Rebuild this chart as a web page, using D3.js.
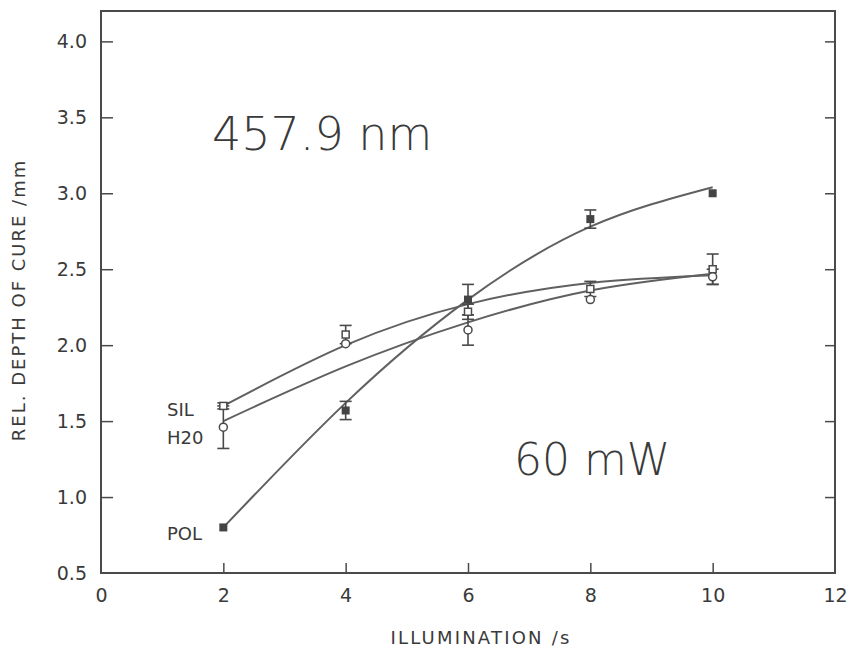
<!DOCTYPE html>
<html>
<head>
<meta charset="utf-8">
<script src="https://cdn.jsdelivr.net/npm/d3@7"></script>
<style>
  body { margin: 0; background: #fff; }
  text { font-family: "DejaVu Sans", Arial, sans-serif; fill: #3a3a3a; }
</style>
</head>
<body>
<script>
const width = 852;
const height = 656;

// data
const times = [2, 4, 6, 8, 10];
const polValues = [0.8, 1.57, 2.3, 2.83, 3.0];
const polErrors = [0, 0.06, 0.1, 0.06, 0];
const silValues = [1.6, 2.07, 2.22, 2.37, 2.5];
const silErrors = [0.02, 0.06, 0.05, 0.05, 0.1];
const h2oValues = [1.46, 2.01, 2.1, 2.3, 2.45];
const h2oErrors = [0.14, 0, 0.1, 0, 0.05];

// fitted curves as drawn in the figure
const polFit = [0.8, 1.62, 2.3, 2.78, 3.04];
const silFit = [1.6, 2.0, 2.27, 2.41, 2.46];
const h2oFit = [1.5, 1.86, 2.15, 2.36, 2.47];

const xTicks = [0, 2, 4, 6, 8, 10, 12];
const yTicks = [0.5, 1.0, 1.5, 2.0, 2.5, 3.0, 3.5, 4.0];

const margin = { left: 101, right: 17, top: 11, bottom: 83 };

const x = d3.scaleLinear().domain([0, 12]).range([margin.left, width - margin.right]);
const y = d3.scaleLinear().domain([0.5, 4.2]).range([height - margin.bottom, margin.top]);

const svg = d3.select('body').append('svg')
  .attr('width', width)
  .attr('height', height);

const ink = '#4a4a4a';

// frame
svg.append('rect')
  .attr('x', x(0)).attr('y', y(4.2))
  .attr('width', x(12) - x(0)).attr('height', y(0.5) - y(4.2))
  .attr('fill', 'none').attr('stroke', ink).attr('stroke-width', 2);

// axes with inward ticks
const xAxis = svg.append('g')
  .attr('transform', `translate(0,${y(0.5)})`)
  .call(d3.axisBottom(x).tickValues(xTicks).tickSizeInner(-10).tickSizeOuter(0).tickPadding(16).tickFormat(d3.format('d')));
const yAxis = svg.append('g')
  .attr('transform', `translate(${x(0)},0)`)
  .call(d3.axisLeft(y).tickValues(yTicks).tickSizeInner(-12).tickSizeOuter(0).tickPadding(14).tickFormat(d3.format('.1f')));
const yAxisRight = svg.append('g')
  .attr('transform', `translate(${x(12)},0)`)
  .call(d3.axisRight(y).tickValues(yTicks).tickSizeInner(-10).tickSizeOuter(0).tickFormat(''));

[xAxis, yAxis, yAxisRight].forEach(g => {
  g.select('.domain').remove();
  g.selectAll('line').attr('stroke', ink).attr('stroke-width', 1.5);
  g.selectAll('text').attr('font-size', 19).attr('fill', '#444')
    .style('font-family', '"DejaVu Sans", Arial, sans-serif');
});
xAxis.selectAll('.tick').filter(d => d === 0 || d === 12).select('line').remove();
yAxis.selectAll('.tick').filter(d => d === 0.5).select('line').remove();
yAxisRight.selectAll('.tick').filter(d => d === 0.5).select('line').remove();

// axis titles
svg.append('text')
  .attr('x', 481).attr('y', 644)
  .attr('text-anchor', 'middle').attr('font-size', 18)
  .attr('letter-spacing', 2.2)
  .attr('fill', '#444')
  .text('ILLUMINATION /s');
svg.append('text')
  .attr('transform', `translate(25,300) rotate(-90)`)
  .attr('text-anchor', 'middle').attr('font-size', 18)
  .attr('letter-spacing', 2)
  .attr('fill', '#444')
  .text('REL. DEPTH OF CURE /mm');

// fitted curves
const line = d3.line()
  .x((d, i) => x(times[i]))
  .y(d => y(d))
  .curve(d3.curveNatural);

[polFit, silFit, h2oFit].forEach(fit => {
  svg.append('path')
    .attr('d', line(fit))
    .attr('fill', 'none')
    .attr('stroke', '#606060')
    .attr('stroke-width', 2);
});

// error bars
function errorBars(values, errors) {
  const g = svg.append('g').attr('stroke', ink).attr('stroke-width', 1.6);
  values.forEach((v, i) => {
    const e = errors[i];
    if (!e) return;
    const cx = x(times[i]);
    g.append('line').attr('x1', cx).attr('x2', cx).attr('y1', y(v - e)).attr('y2', y(v + e));
    g.append('line').attr('x1', cx - 6).attr('x2', cx + 6).attr('y1', y(v - e)).attr('y2', y(v - e));
    g.append('line').attr('x1', cx - 6).attr('x2', cx + 6).attr('y1', y(v + e)).attr('y2', y(v + e));
  });
}
errorBars(polValues, polErrors);
errorBars(silValues, silErrors);
errorBars(h2oValues, h2oErrors);

// markers
svg.append('g').selectAll('rect')
  .data(polValues).enter().append('rect')
  .attr('x', (d, i) => x(times[i]) - 4).attr('y', d => y(d) - 4)
  .attr('width', 8).attr('height', 8)
  .attr('fill', '#444');

svg.append('g').selectAll('rect')
  .data(silValues).enter().append('rect')
  .attr('x', (d, i) => x(times[i]) - 3.5).attr('y', d => y(d) - 3.5)
  .attr('width', 7).attr('height', 7)
  .attr('fill', '#fff').attr('stroke', ink).attr('stroke-width', 1.5);

svg.append('g').selectAll('circle')
  .data(h2oValues).enter().append('circle')
  .attr('cx', (d, i) => x(times[i])).attr('cy', d => y(d))
  .attr('r', 4)
  .attr('fill', '#fff').attr('stroke', ink).attr('stroke-width', 1.5);

// series labels
const labels = [
  { text: 'SIL', v: silValues[0], dy: 10 },
  { text: 'H20', v: h2oValues[0], dy: 17 },
  { text: 'POL', v: polValues[0], dy: 13 }
];
svg.append('g').selectAll('text')
  .data(labels).enter().append('text')
  .attr('x', 167).attr('y', d => y(d.v) + d.dy)
  .attr('font-size', 18)
  .attr('fill', '#444')
  .text(d => d.text);

// annotations
svg.append('text')
  .attr('x', 212).attr('y', 150)
  .attr('font-size', 46).attr('fill', '#444')
  .style('font-weight', 200)
  .text('457.9  nm');
svg.append('text')
  .attr('x', 514).attr('y', 475)
  .attr('font-size', 44).attr('fill', '#444')
  .style('font-weight', 200)
  .text('60 mW');
</script>
</body>
</html>
